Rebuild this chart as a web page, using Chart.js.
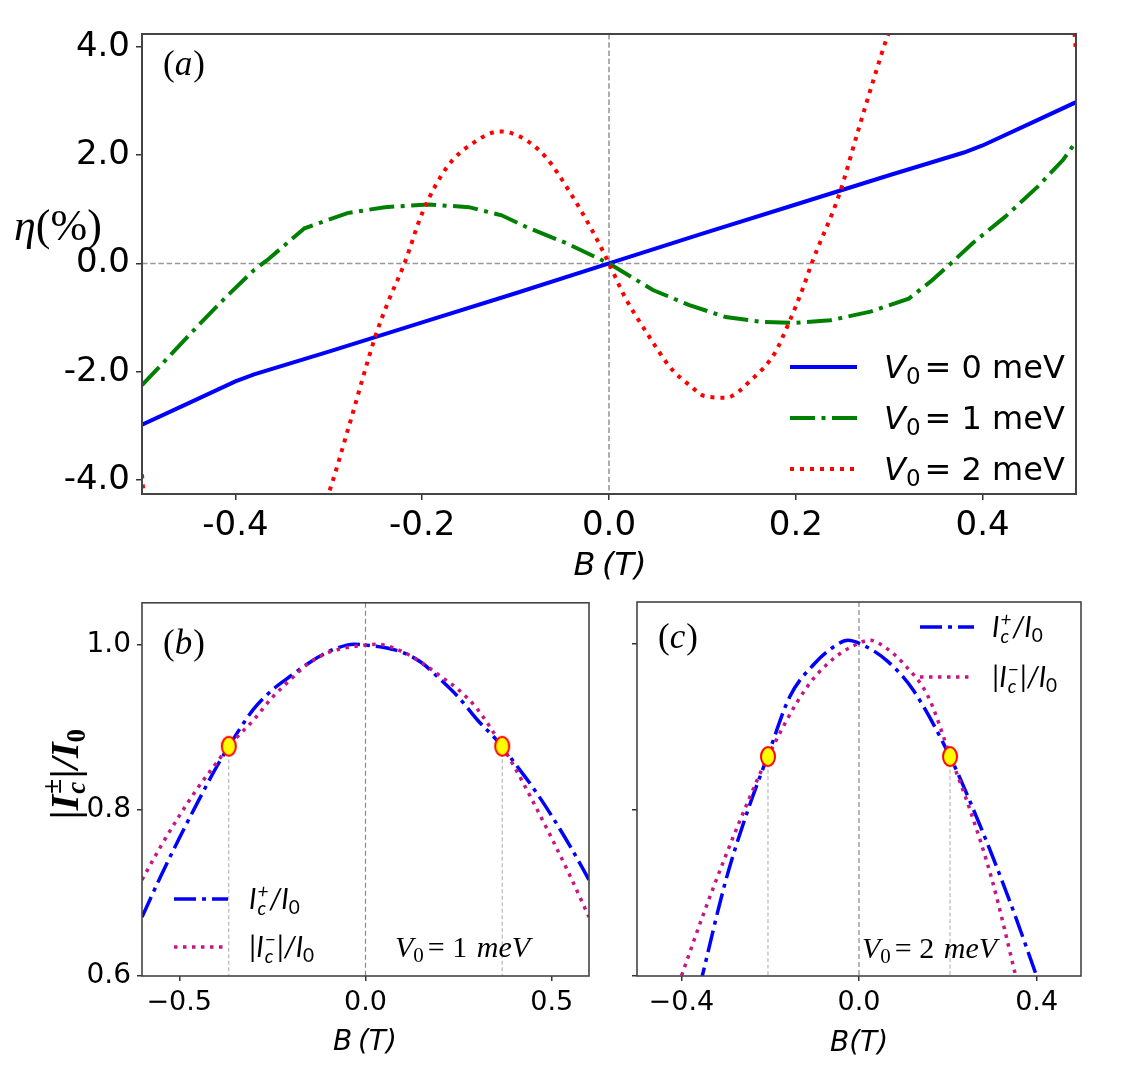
<!DOCTYPE html>
<html>
<head>
<meta charset="utf-8">
<script src="https://cdn.jsdelivr.net/npm/chart.js@4.4.1/dist/chart.umd.min.js"></script>
<style>
  html, body { margin: 0; padding: 0; background: #fff; }
  #wrap { position: relative; width: 1140px; height: 1086px; overflow: hidden; background: #fff; }
  canvas { position: absolute; }
  #chartA { left: 0; top: 0; }
  #chartB { left: 0; top: 580px; }
  #chartC { left: 615px; top: 580px; }
</style>
</head>
<body>
<div id="wrap">
  <canvas id="chartA" width="1140" height="600"></canvas>
  <canvas id="chartB" width="615" height="506"></canvas>
  <canvas id="chartC" width="525" height="506"></canvas>
</div>
<script>
// ---- panel (a): eta (%) vs B, three barrier heights ----
const v0Values = [0, 1, 2];

const bV0 = [-0.5, -0.45, -0.4, -0.38, -0.3, -0.2, -0.1, 0, 0.1, 0.2, 0.3, 0.38, 0.4, 0.45, 0.5];
const etaV0 = [-2.98, -2.58, -2.18, -2.05, -1.63, -1.09, -0.55, 0, 0.55, 1.09, 1.63, 2.05, 2.18, 2.58, 2.98];

const bV1 = [-0.5, -0.47, -0.44, -0.41, -0.38, -0.366, -0.326, -0.28, -0.24, -0.193, -0.15, -0.115, -0.088, -0.045, 0,
             0.047, 0.086, 0.125, 0.164, 0.198, 0.237, 0.28, 0.321, 0.346, 0.366, 0.389, 0.424, 0.459, 0.486, 0.5];
const etaV1 = [-2.25, -1.70, -1.15, -0.62, -0.12, 0.06, 0.65, 0.93, 1.04, 1.09, 1.04, 0.89, 0.67, 0.37, 0,
               -0.49, -0.77, -0.99, -1.08, -1.10, -1.05, -0.89, -0.65, -0.31, 0, 0.37, 0.86, 1.42, 1.91, 2.25];

const bV2 = [-0.5, -0.45, -0.35, -0.299, -0.279, -0.25, -0.236, -0.219, -0.2, -0.173, -0.146, -0.117, -0.095, -0.068, -0.042, -0.018, 0,
             0.017, 0.04, 0.067, 0.087, 0.102, 0.125, 0.153, 0.177, 0.192, 0.208, 0.217, 0.247, 0.266, 0.286, 0.297, 0.35, 0.45, 0.5];
const etaV2 = [-3.9, -15, -6.5, -4.19, -3.04, -1.34, -0.69, 0, 0.93, 1.79, 2.22, 2.44, 2.34, 1.97, 1.32, 0.61, 0,
               -0.62, -1.27, -1.95, -2.26, -2.45, -2.48, -2.14, -1.67, -1.12, -0.44, 0, 1.30, 2.41, 3.55, 4.14, 6.5, 15, 3.9];

const xTicksA = [-0.4, -0.2, 0, 0.2, 0.4];
const yTicksA = [-4, -2, 0, 2, 4];

// ---- panel (b): V0 = 1 meV ----
const bPlusB = [-0.6, -0.55, -0.5, -0.45, -0.4, -0.367, -0.3, -0.25, -0.2, -0.15, -0.1, -0.05, -0.03, 0,
                0.05, 0.1, 0.15, 0.2, 0.25, 0.3, 0.367, 0.4, 0.45, 0.5, 0.55, 0.6];
const iPlusB = [0.671, 0.72, 0.766, 0.81, 0.852, 0.877, 0.922, 0.945, 0.962, 0.978, 0.991, 0.999, 1.0, 0.999,
                0.996, 0.99, 0.978, 0.958, 0.936, 0.909, 0.877, 0.857, 0.827, 0.793, 0.756, 0.716];
const bMinusB = [-0.6, -0.55, -0.5, -0.45, -0.4, -0.367, -0.3, -0.25, -0.2, -0.15, -0.1, -0.05, 0, 0.03,
                 0.05, 0.1, 0.15, 0.2, 0.25, 0.3, 0.367, 0.4, 0.45, 0.5, 0.55, 0.6];
const iMinusB = [0.716, 0.756, 0.793, 0.827, 0.857, 0.877, 0.909, 0.936, 0.958, 0.978, 0.99, 0.996, 0.999, 1.0,
                 0.999, 0.991, 0.978, 0.962, 0.945, 0.922, 0.877, 0.852, 0.81, 0.766, 0.72, 0.671];
const crossBB = [-0.367, 0.367];
const crossIB = [0.877, 0.877];
const xTicksB = [-0.5, 0, 0.5];

// ---- panel (c): V0 = 2 meV ----
const bPlusC = [-0.38, -0.353, -0.3, -0.25, -0.206, -0.156, -0.1, -0.06, -0.025, 0.01, 0.066, 0.122, 0.205, 0.25, 0.3, 0.35, 0.4, 0.42];
const iPlusC = [0.54, 0.6, 0.715, 0.80, 0.864, 0.936, 0.976, 0.995, 1.004, 0.998, 0.978, 0.944, 0.864, 0.81, 0.745, 0.675, 0.6, 0.57];
const bMinusC = [-0.42, -0.4, -0.35, -0.3, -0.25, -0.205, -0.122, -0.066, -0.01, 0.025, 0.06, 0.1, 0.156, 0.206, 0.25, 0.3, 0.353, 0.38];
const iMinusC = [0.57, 0.6, 0.675, 0.745, 0.81, 0.864, 0.944, 0.978, 0.998, 1.004, 0.995, 0.976, 0.936, 0.864, 0.80, 0.715, 0.6, 0.54];
const crossBC = [-0.205, 0.205];
const crossIC = [0.864, 0.864];
const xTicksC = [-0.4, 0, 0.4];

const yTicksBC = [0.6, 0.8, 1.0];

// ---- styles ----
const SANS = "'DejaVu Sans'";
const SERIF = "'Liberation Serif', 'DejaVu Serif', serif";
const LEG = "Lato, 'Open Sans', sans-serif";
const styleA = [
  { color: '#0000ff', width: 4, dash: [] },
  { color: '#008000', width: 4, dash: [25, 6.5, 4, 6.5] },
  { color: '#ff0000', width: 4, dash: [4, 6] },
];
const plusStyle = { color: '#0000ff', width: 3.5, dash: [22, 6, 4, 6] };
const minusStyle = { color: '#c71585', width: 3.5, dash: [3.5, 5.5] };

const pts = (xs, ys) => xs.map((x, i) => ({ x, y: ys[i] }));

function lineDs(xs, ys, st, smooth) {
  return {
    data: pts(xs, ys), showLine: true, borderColor: st.color, backgroundColor: st.color,
    borderWidth: st.width, borderDash: st.dash, pointRadius: 0, pointHoverRadius: 0,
    tension: 0, cubicInterpolationMode: smooth ? 'monotone' : 'default', capBezierPoints: false, clip: 0,
  };
}

// yellow crossing marker (slightly tall ellipse, as in the figure)
const marker = document.createElement('canvas');
marker.width = 18; marker.height = 23;
(() => {
  const m = marker.getContext('2d');
  m.beginPath(); m.ellipse(9, 11.5, 7, 9.5, 0, 0, Math.PI * 2);
  m.fillStyle = '#ffff00'; m.fill();
  m.lineWidth = 2; m.strokeStyle = '#ff0000'; m.stroke();
})();

function crossingSets(bs, is, yMin) {
  const sets = [{
    data: pts(bs, is), showLine: false, pointStyle: marker, pointRadius: 9, pointHoverRadius: 9, clip: false,
  }];
  bs.forEach((b, i) => sets.push({
    data: [{ x: b, y: is[i] }, { x: b, y: yMin }], showLine: true, pointRadius: 0,
    borderColor: '#aaaaaa', borderWidth: 1, borderDash: [4, 2.5],
  }));
  return sets;
}

function axis(min, max, ticks, fontPx, fmt, fit, horizontal, showLabels, tickLen) {
  return {
    type: 'linear', min, max, position: horizontal ? 'bottom' : 'left',
    afterBuildTicks: s => { s.ticks = ticks.map(v => ({ value: v })); },
    afterFit: s => { if (horizontal) s.height = fit; else s.width = fit; },
    grid: { display: true, drawOnChartArea: false, drawTicks: true, tickLength: tickLen, color: '#333', lineWidth: 1.5 },
    border: { display: false },
    ticks: { display: showLabels, color: '#000', font: { family: SANS, size: fontPx }, padding: 6,
             callback: fmt, maxRotation: 0, autoSkip: false },
  };
}
const fmtHyphen = v => v.toFixed(1);
const fmtMinus = v => v.toFixed(1).replace('-', '\u2212');

// ---- plugins ----
const refLines = {
  id: 'refLines',
  beforeDatasetsDraw(chart, args, o) {
    const { ctx, chartArea: a, scales: { x, y } } = chart;
    ctx.save();
    ctx.strokeStyle = o.color; ctx.lineWidth = o.width; ctx.setLineDash(o.dash);
    if (o.horizontal) {
      const py = y.getPixelForValue(0);
      ctx.beginPath(); ctx.moveTo(a.left, py); ctx.lineTo(a.right, py); ctx.stroke();
    }
    const px = x.getPixelForValue(0);
    ctx.beginPath(); ctx.moveTo(px, a.top); ctx.lineTo(px, a.bottom); ctx.stroke();
    ctx.restore();
  }
};
const frame = {
  id: 'frame',
  afterDatasetsDraw(chart, args, o) {
    const { ctx, chartArea: a } = chart;
    ctx.save();
    ctx.strokeStyle = '#444'; ctx.lineWidth = o.width;
    ctx.strokeRect(a.left, a.top, a.right - a.left, a.bottom - a.top);
    ctx.restore();
  }
};

function textWidth(ctx, parts) {
  let w = 0;
  for (const p of parts) {
    ctx.font = p.f;
    w += p.sup !== undefined ? Math.max(ctx.measureText(p.sup).width, ctx.measureText(p.sub).width)
                             : ctx.measureText(p.t).width;
    w += p.gap || 0;
  }
  return w;
}
function drawText(ctx, x, y, parts, align) {
  ctx.save();
  ctx.fillStyle = '#000'; ctx.textBaseline = 'alphabetic'; ctx.textAlign = 'left';
  let cx = align === 'center' ? x - textWidth(ctx, parts) / 2 : x;
  for (const p of parts) {
    ctx.font = p.f;
    if (p.sup !== undefined) {
      ctx.fillText(p.sup, cx, y - p.up);
      ctx.fillText(p.sub, cx, y + p.down);
      cx += Math.max(ctx.measureText(p.sup).width, ctx.measureText(p.sub).width);
    } else {
      ctx.fillText(p.t, cx, y + (p.dy || 0));
      cx += ctx.measureText(p.t).width;
    }
    cx += p.gap || 0;
  }
  ctx.restore();
}
function sample(ctx, x1, x2, y, st) {
  ctx.save();
  ctx.strokeStyle = st.color; ctx.lineWidth = st.width; ctx.setLineDash(st.dash);
  ctx.beginPath(); ctx.moveTo(x1, y); ctx.lineTo(x2, y); ctx.stroke();
  ctx.restore();
}
const panelLabel = (ch) => [
  { t: '(', f: `35px ${SERIF}` }, { t: ch, f: `italic 35px ${SERIF}`, gap: 1 }, { t: ')', f: `35px ${SERIF}` }];
const iPlusText = (fs, ss) => [
  { t: 'I', f: `italic ${fs}px ${LEG}`, gap: 1 },
  { sup: '+', sub: 'c', f: `italic ${ss}px ${LEG}`, up: 11, down: 6, gap: 1 },
  { t: '/I', f: `italic ${fs}px ${LEG}` },
  { t: '0', f: `${ss}px ${LEG}`, dy: 5 }];
const iMinusText = (fs, ss) => [
  { t: '|I', f: `italic ${fs}px ${LEG}`, gap: 1 },
  { sup: '\u2212', sub: 'c', f: `italic ${ss}px ${LEG}`, up: 11, down: 6, gap: 1 },
  { t: '|/I', f: `italic ${fs}px ${LEG}` },
  { t: '0', f: `${ss}px ${LEG}`, dy: 5 }];
const v0Note = (v) => [
  { t: 'V', f: `italic 30px ${SERIF}` },
  { t: '0', f: `21px ${SERIF}`, dy: 5, gap: 4 },
  { t: '= ' + v + ' ', f: `30px ${SERIF}`, gap: 2 },
  { t: 'meV', f: `italic 30px ${SERIF}` }];

// ---- chart (a) ----
new Chart(document.getElementById('chartA'), {
  type: 'scatter',
  data: { datasets: [
    lineDs(bV2, etaV2, styleA[2], true),
    lineDs(bV1, etaV1, styleA[1], false),
    lineDs(bV0, etaV0, styleA[0], false),
  ] },
  options: {
    responsive: false, animation: false, devicePixelRatio: 1,
    layout: { padding: { left: 0, top: 34, right: 64, bottom: 0 } },
    plugins: {
      legend: { display: false }, tooltip: { enabled: false },
      refLines: { color: '#999', width: 1.6, dash: [5.5, 2.7], horizontal: true },
      frame: { width: 2 },
    },
    scales: {
      x: axis(-0.5, 0.5, xTicksA, 34, fmtHyphen, 106, true, true, 6),
      y: axis(-4.26, 4.24, yTicksA, 34, fmtHyphen, 142, false, true, 6),
    },
  },
  plugins: [refLines, frame, {
    id: 'textsA',
    afterDraw(chart) {
      const ctx = chart.ctx;
      drawText(ctx, 163, 75, panelLabel('a'));
      drawText(ctx, 14, 240, [{ t: '\u03b7', f: `italic 44px ${SERIF}` }, { t: '(%)', f: `44px ${SERIF}` }]);
      drawText(ctx, 610, 575, [{ t: 'B\u2009(T)', f: `oblique 32px ${SANS}` }], 'center');
      const rows = [367, 418, 469];
      v0Values.forEach((v, i) => {
        sample(ctx, 790, 857, rows[i], styleA[i]);
        drawText(ctx, 884, rows[i] + 11, [
          { t: 'V', f: `oblique 32px ${SANS}` },
          { t: '0', f: `23px ${SANS}`, dy: 6, gap: 4 },
          { t: '= ' + v + ' meV', f: `32px ${SANS}` }]);
      });
    }
  }],
});

// ---- chart (b) ----
new Chart(document.getElementById('chartB'), {
  type: 'scatter',
  data: { datasets: [
    ...crossingSets(crossBB, crossIB, 0.6),
    lineDs(bMinusB, iMinusB, minusStyle, true),
    lineDs(bPlusB, iPlusB, plusStyle, true),
  ] },
  options: {
    responsive: false, animation: false, devicePixelRatio: 1,
    layout: { padding: { left: 0, top: 21, right: 26, bottom: 0 } },
    plugins: {
      legend: { display: false }, tooltip: { enabled: false },
      refLines: { color: '#888', width: 1.2, dash: [5, 3], horizontal: false },
      frame: { width: 1.6 },
    },
    scales: {
      x: axis(-0.6, 0.6, xTicksB, 27, fmtMinus, 110, true, true, 5),
      y: axis(0.6, 1.05, yTicksBC, 28, fmtHyphen, 142, false, true, 5),
    },
  },
  plugins: [refLines, frame, {
    id: 'textsB',
    afterDraw(chart) {
      const ctx = chart.ctx;
      drawText(ctx, 163, 74, panelLabel('b'));
      drawText(ctx, 365, 470, [{ t: 'B\u2009(T)', f: `oblique 28px ${SANS}` }], 'center');
      sample(ctx, 174, 228, 319, plusStyle);
      drawText(ctx, 249, 329, iPlusText(28, 19));
      sample(ctx, 174, 228, 367, minusStyle);
      drawText(ctx, 249, 377, iMinusText(28, 19));
      drawText(ctx, 395, 377, v0Note(1));
      // rotated y label, squeezed along its length to the span seen in the figure
      const yLabel = [
        { t: '|I', f: `bold italic 40px ${SERIF}`, gap: 1 },
        { sup: '\u00b1', sub: 'c', f: `bold italic 27px ${SERIF}`, up: 17, down: 7, gap: 1 },
        { t: '|/I', f: `bold italic 40px ${SERIF}` },
        { t: '0', f: `bold 27px ${SERIF}`, dy: 7 }];
      const w = textWidth(ctx, yLabel);
      ctx.save();
      ctx.translate(78, 194); ctx.rotate(-Math.PI / 2); ctx.scale(90 / w, 1);
      drawText(ctx, 0, 0, yLabel, 'center');
      ctx.restore();
    }
  }],
});

// ---- chart (c) ----
new Chart(document.getElementById('chartC'), {
  type: 'scatter',
  data: { datasets: [
    ...crossingSets(crossBC, crossIC, 0.6),
    lineDs(bMinusC, iMinusC, minusStyle, true),
    lineDs(bPlusC, iPlusC, plusStyle, true),
  ] },
  options: {
    responsive: false, animation: false, devicePixelRatio: 1,
    layout: { padding: { left: 0, top: 22, right: 59, bottom: 0 } },
    plugins: {
      legend: { display: false }, tooltip: { enabled: false },
      refLines: { color: '#888', width: 1.2, dash: [5, 3], horizontal: false },
      frame: { width: 1.6 },
    },
    scales: {
      x: axis(-0.5, 0.5, xTicksC, 27, fmtMinus, 110, true, true, 5),
      y: axis(0.6, 1.05, yTicksBC, 28, fmtHyphen, 22, false, false, 5),
    },
  },
  plugins: [refLines, frame, {
    id: 'textsC',
    afterDraw(chart) {
      const ctx = chart.ctx;
      drawText(ctx, 43, 68, panelLabel('c'));
      drawText(ctx, 244, 471, [{ t: 'B(T)', f: `oblique 28px ${SANS}` }], 'center');
      sample(ctx, 305, 359, 47, plusStyle);
      drawText(ctx, 377, 57, iPlusText(28, 19));
      sample(ctx, 305, 359, 97, minusStyle);
      drawText(ctx, 377, 107, iMinusText(28, 19));
      drawText(ctx, 247, 378, v0Note(2));
    }
  }],
});
</script>
</body>
</html>
